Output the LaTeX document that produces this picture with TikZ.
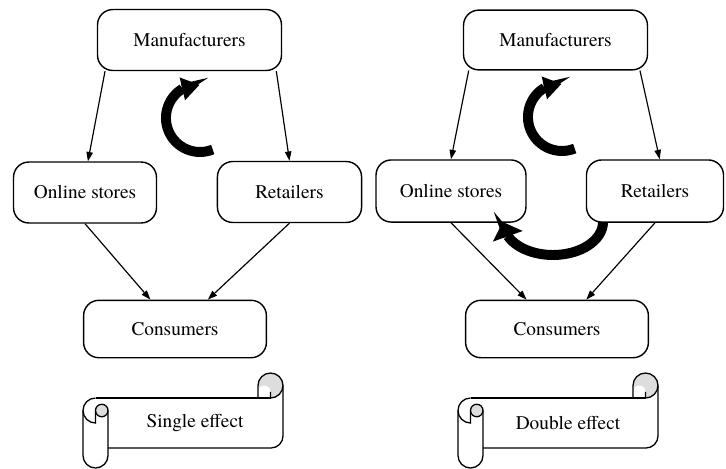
\documentclass[tikz,border=0pt]{standalone}
\usepackage{fontspec}
\setmainfont{texgyretermes}[Extension=.otf, UprightFont=*-regular]
\usepackage{tikz}
\usetikzlibrary{arrows.meta}
\definecolor{ScrollGray}{HTML}{DDDDDD}

\begin{document}
\begin{tikzpicture}[
	x=0.03cm, y=-0.03cm,
	font=\fontsize{16.5}{19}\selectfont,
	box/.style={draw, rounded corners=13pt, line width=1.2pt, align=center},
	arrow/.style={-{Triangle[length=8pt, width=5.5pt]}, line width=1pt},
	bigarrow/.style={line width=8.5pt, -{Triangle[length=15pt, width=20pt, line width=0pt]}},
	scrollline/.style={line width=1.1pt},
	scroll/.pic={
		% right roll
		\fill[ScrollGray] (270.5,385.5) circle[radius=12.5];
		\fill[white] (258,398) -- (258,391.75) arc[start angle=180, end angle=360, radius=6.25] -- (270.5,398) -- cycle;
		\draw[scrollline] (258,398) -- (258,385.5) arc[start angle=180, end angle=360, radius=12.5] -- (283,436) arc[start angle=0, end angle=90, radius=12] -- (108,448);
		\draw[scrollline] (283,385.5) arc[start angle=0, end angle=90, radius=12.5] -- (270.5,391.75);
		\draw[scrollline] (95.5,398) -- (270.5,398);
		% left roll
		\filldraw[fill=ScrollGray, scrollline] (101.75,410.5) circle[radius=6.25];
		\draw[scrollline] (95.5,398) arc[start angle=270, end angle=180, radius=12.5] -- (83,455.5) arc[start angle=180, end angle=0, radius=12.5] -- (108,410.5);
		\draw[scrollline] (83,410.5) arc[start angle=180, end angle=90, radius=12.5] -- (95.5,410.5);
	}
]
\useasboundingbox (0,0) rectangle (726,468);

% single effect
\node[box, minimum width=157pt, minimum height=52pt] (mfrA) at (189.5,40) {Manufacturers};
\node[box, minimum width=122pt, minimum height=52pt] (onlineA) at (85,192.5) {Online stores};
\node[box, minimum width=123pt, minimum height=52pt] (retailA) at (289.5,192) {Retailers};
\node[box, minimum width=156pt, minimum height=49pt] (consA) at (175,329) {Consumers};

\draw[arrow] ([xshift=7pt]mfrA.south west) -- ([xshift=2.5pt]onlineA.north);
\draw[arrow] ([xshift=-5pt]mfrA.south east) -- (retailA.north);
\draw[arrow] (onlineA.south) -- ([xshift=-21pt]consA.north);
\draw[arrow] (retailA.south) -- ([xshift=28pt]consA.north);

\coordinate (turnA) at (212.7,149.5);
\draw[bigarrow] (turnA) arc[start angle=68, end angle=239, radius=34] -- ++(17,-4);

\pic at (0,0) {scroll};
\node (effectA) at (195,423) {Single effect};

% double effect
\node[box, minimum width=157pt, minimum height=51pt] (mfrB) at (555.5,40) {Manufacturers};
\node[box, minimum width=128pt, minimum height=53pt] (onlineB) at (451,191) {Online stores};
\node[box, minimum width=117pt, minimum height=53pt] (retailB) at (655,191) {Retailers};
\node[box, minimum width=156pt, minimum height=49pt] (consB) at (557,329) {Consumers};

\draw[arrow] ([xshift=5pt]mfrB.south west) -- (onlineB.north);
\draw[arrow] ([xshift=-7pt]mfrB.south east) -- ([xshift=4pt]retailB.north);
\draw[arrow] (onlineB.south) -- ([xshift=-26pt]consB.north);
\draw[arrow] (retailB.south) -- ([xshift=25pt]consB.north);

\coordinate (turnB) at (574.7,148.5);
\draw[bigarrow] (turnB) arc[start angle=68, end angle=239, radius=34] -- ++(17,-4);
\coordinate (turnC) at (603,222);
\draw[bigarrow, -{Triangle[length=13pt, width=27pt, line width=0pt]}] (turnC) arc[start angle=0, end angle=155, x radius=50, y radius=33] -- ++(-5,-14);

\pic at (375,0) {scroll};
\node (effectB) at (568,423) {Double effect};
\end{tikzpicture}
\end{document}
